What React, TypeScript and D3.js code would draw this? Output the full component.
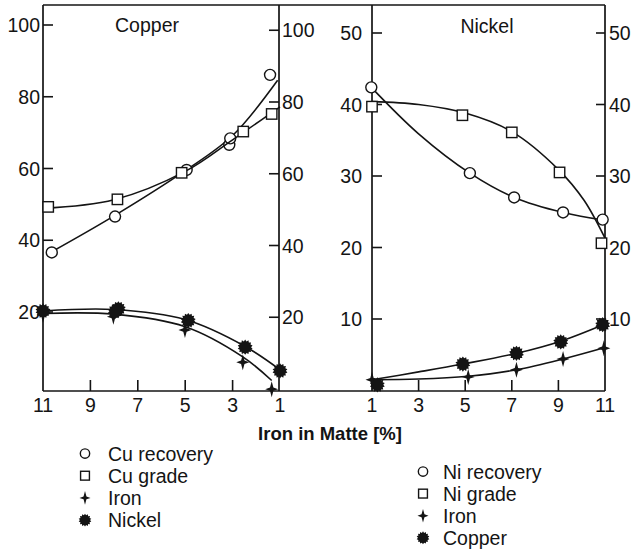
import React from "react";
import * as d3 from "d3";

// ---------- Data ----------
// Copper panel (x = Iron in matte %, reversed axis 11 -> 1)
const cuRecoveryPts: [number, number][] = [[10.63, 36.6], [7.96, 46.6], [4.94, 59.6], [3.14, 66.6], [3.1, 68.4], [1.42, 86.1]];
const cuRecoveryFit: [number, number][] = [[10.63, 36.8], [8, 46.8], [5, 59.4], [3, 69.2], [1.1, 84.6]];
const cuGradePts: [number, number][] = [[10.78, 49.3], [7.86, 51.4], [5.15, 58.8], [2.55, 70.3], [1.35, 75.2]];
const cuGradeFit: [number, number][] = [[11, 48.9], [8, 51.3], [5, 59.2], [3, 68.0], [1, 77.2]];
const cuIronPts: [number, number][] = [[11, 19.2], [8.03, 18.7], [5.01, 15.0], [2.57, 6.0], [1.35, -1.5]];
const cuIronFit: [number, number][] = [[11, 19.6], [8, 19.4], [5, 15.9], [2.57, 7.5], [1.35, 0.9]];
const cuNickelPts: [number, number][] = [[11, 20.3], [7.82, 20.9], [7.95, 20.2], [4.87, 17.6], [2.47, 10.2], [1.0, 3.6]];
const cuNickelFit: [number, number][] = [[11, 20.3], [8, 20.7], [5, 17.9], [2.47, 10.4], [1.0, 3.9]];

// Nickel panel (x = Iron in matte %, 1 -> 11)
const niRecoveryPts: [number, number][] = [[0.97, 42.4], [5.2, 30.4], [7.1, 27.0], [9.2, 24.9], [10.9, 23.9]];
const niRecoveryFit: [number, number][] = [[0.97, 42.4], [3, 35.9], [5.2, 30.4], [7.1, 27.0], [9.2, 24.9], [11, 23.8]];
const niGradePts: [number, number][] = [[1.0, 39.7], [4.88, 38.5], [7.0, 36.1], [9.05, 30.5], [10.85, 20.6]];
const niGradeFit: [number, number][] = [[1, 40.4], [3, 40.0], [5, 38.8], [7, 36.2], [9, 30.9], [10.1, 26.6], [11, 21.3]];
const niIronPts: [number, number][] = [[1.0, 1.5], [5.13, 1.9], [7.2, 2.9], [9.2, 4.4], [10.95, 5.9]];
const niIronFit: [number, number][] = [[1, 1.5], [3, 1.6], [5.13, 2.0], [7.2, 2.9], [9.2, 4.4], [11, 6.0]];
const niCopperPts: [number, number][] = [[1.23, 0.8], [4.9, 3.7], [7.2, 5.2], [9.1, 6.8], [10.9, 9.2]];
const niCopperFit: [number, number][] = [[1, 1.5], [3, 2.6], [4.9, 3.7], [7.2, 5.2], [9.1, 6.9], [11, 9.3]];

// Ticks and labels
const copperYTicks = [20, 40, 60, 80, 100];
const nickelYTicks = [10, 20, 30, 40, 50];
const copperXTicks = [11, 9, 7, 5, 3, 1];
const nickelXTicks = [1, 3, 5, 7, 9, 11];
const panelTitles = ["Copper", "Nickel"];
const xAxisTitle = "Iron in Matte [%]";
const copperLegend = ["Cu recovery", "Cu grade", "Iron", "Nickel"];
const nickelLegend = ["Ni recovery", "Ni grade", "Iron", "Copper"];
const legendShapes = ["circle", "square", "star", "burst"];

// ---------- Layout ----------
const FONT = "'Liberation Sans', Arial, Helvetica, sans-serif";
const INK = "#141414";
const TOP = 5;
const BOTTOM = 391;
const L0 = 43, L1 = 279, R0 = 372, R1 = 605;

const xL = d3.scaleLinear().domain([11, 1]).range([43, 280]);
const yL = d3.scaleLinear().domain([0, 100]).range([383.75, 25]);
const yLR = d3.scaleLinear().domain([0, 100]).range([389, 30.25]);
const xR = d3.scaleLinear().domain([1, 11]).range([372, 605]);
const yR = d3.scaleLinear().domain([0, 50]).range([390.5, 33]);

function starPath(nPts: number, rOut: number, rIn: number, rOutY?: number): string {
  const pts: [number, number][] = [];
  for (let i = 0; i < nPts * 2; i++) {
    const a = (Math.PI * i) / nPts - Math.PI / 2;
    const isOut = i % 2 === 0;
    const rx = isOut ? rOut : rIn;
    const ry = isOut ? (rOutY ?? rOut) : rIn;
    pts.push([Math.cos(a) * rx, Math.sin(a) * ry]);
  }
  return "M" + pts.map((p) => p[0].toFixed(2) + "," + p[1].toFixed(2)).join("L") + "Z";
}

function Marker({ shape, x, y, s = 1 }: { shape: string; x: number; y: number; s?: number }) {
  if (shape === "circle")
    return <circle cx={x} cy={y} r={5.5 * s} fill="white" stroke={INK} strokeWidth={1.4} />;
  if (shape === "square")
    return <rect x={x - 5.2 * s} y={y - 5.2 * s} width={10.4 * s} height={10.4 * s} fill="white" stroke={INK} strokeWidth={1.4} />;
  if (shape === "star")
    return <path transform={`translate(${x},${y})`} d={starPath(4, 6.5 * s, 2.4 * s, 8 * s)} fill={INK} />;
  return <path transform={`translate(${x},${y})`} d={starPath(14, 7.6 * s, 5.9 * s)} fill={INK} />;
}

function Series({ pts, fit, shape, x, y }: { pts: [number, number][]; fit: [number, number][]; shape: string; x: d3.ScaleLinear<number, number>; y: d3.ScaleLinear<number, number> }) {
  const line = d3.line<[number, number]>().x((d) => x(d[0])).y((d) => y(d[1])).curve(d3.curveCatmullRom.alpha(0.5));
  return (
    <g>
      <path d={line(fit) || ""} fill="none" stroke={INK} strokeWidth={1.6} />
      {pts.map((p, i) => (
        <Marker key={i} shape={shape} x={x(p[0])} y={y(p[1])} />
      ))}
    </g>
  );
}

export default function App() {
  const fs = 19.5;
  return (
    <div style={{ position: "absolute", left: 0, top: 0 }}>
      <svg width={633} height={551} style={{ display: "block", background: "white" }} fontFamily={FONT}>
        {/* frame */}
        <g stroke={INK} strokeWidth={1.7} fill="none">
          <line x1={L0} x2={R1} y1={TOP} y2={TOP} />
          <line x1={L0} x2={R1} y1={BOTTOM} y2={BOTTOM} />
          <line x1={L0} x2={L0} y1={TOP} y2={BOTTOM} />
          <line x1={L1} x2={L1} y1={TOP} y2={BOTTOM} />
          <line x1={R0} x2={R0} y1={TOP} y2={BOTTOM} />
          <line x1={R1} x2={R1} y1={TOP} y2={BOTTOM} />
        </g>

        {/* Copper panel y axes */}
        {copperYTicks.map((t) => (
          <g key={"cl" + t}>
            <line x1={L0} x2={L0 + 10} y1={yL(t)} y2={yL(t)} stroke={INK} strokeWidth={1.6} />
            <text x={40} y={yL(t)} dy="0.36em" textAnchor="end" fontSize={fs} fill={INK}>{t}</text>
          </g>
        ))}
        {copperYTicks.map((t) => (
          <g key={"cr" + t}>
            <line x1={L1 - 10} x2={L1} y1={yLR(t)} y2={yLR(t)} stroke={INK} strokeWidth={1.6} />
            <text x={282} y={yLR(t)} dy="0.36em" textAnchor="start" fontSize={fs} fill={INK}>{t}</text>
          </g>
        ))}
        {/* Nickel panel y axes */}
        {nickelYTicks.map((t) => (
          <g key={"nl" + t}>
            <line x1={R0} x2={R0 + 10} y1={yR(t)} y2={yR(t)} stroke={INK} strokeWidth={1.6} />
            <text x={362} y={yR(t)} dy="0.36em" textAnchor="end" fontSize={fs} fill={INK}>{t}</text>
            <line x1={R1 - 9} x2={R1} y1={yR(t)} y2={yR(t)} stroke={INK} strokeWidth={1.6} />
            <text x={609} y={yR(t)} dy="0.36em" textAnchor="start" fontSize={fs} fill={INK}>{t}</text>
          </g>
        ))}

        {/* x axes */}
        {copperXTicks.map((t) => (
          <g key={"cx" + t}>
            {t !== 11 && t !== 1 && <line x1={xL(t)} x2={xL(t)} y1={BOTTOM} y2={BOTTOM - 11} stroke={INK} strokeWidth={1.6} />}
            <text x={xL(t)} y={412} textAnchor="middle" fontSize={fs} fill={INK}>{t}</text>
          </g>
        ))}
        {nickelXTicks.map((t) => (
          <g key={"nx" + t}>
            {t !== 11 && t !== 1 && <line x1={xR(t)} x2={xR(t)} y1={BOTTOM} y2={BOTTOM - 11} stroke={INK} strokeWidth={1.6} />}
            <text x={xR(t)} y={412} textAnchor="middle" fontSize={fs} fill={INK}>{t}</text>
          </g>
        ))}
        <text x={330} y={440} textAnchor="middle" fontSize={18.5} fontWeight="bold" fill={INK}>{xAxisTitle}</text>

        {/* titles */}
        <text x={147} y={32} textAnchor="middle" fontSize={fs} fill={INK}>{panelTitles[0]}</text>
        <text x={487} y={33} textAnchor="middle" fontSize={fs} fill={INK}>{panelTitles[1]}</text>

        {/* Copper series */}
        <Series pts={cuRecoveryPts} fit={cuRecoveryFit} shape="circle" x={xL} y={yL} />
        <Series pts={cuGradePts} fit={cuGradeFit} shape="square" x={xL} y={yL} />
        <Series pts={cuIronPts} fit={cuIronFit} shape="star" x={xL} y={yL} />
        <Series pts={cuNickelPts} fit={cuNickelFit} shape="burst" x={xL} y={yL} />

        {/* Nickel series */}
        <Series pts={niRecoveryPts} fit={niRecoveryFit} shape="circle" x={xR} y={yR} />
        <Series pts={niGradePts} fit={niGradeFit} shape="square" x={xR} y={yR} />
        <Series pts={niIronPts} fit={niIronFit} shape="star" x={xR} y={yR} />
        <Series pts={niCopperPts} fit={niCopperFit} shape="burst" x={xR} y={yR} />

        {/* legends */}
        {copperLegend.map((lab, i) => (
          <g key={"lg1" + i}>
            <Marker shape={legendShapes[i]} x={85} y={453.5 + i * 22.2} s={0.85} />
            <text x={108} y={460.5 + i * 22.2} fontSize={fs} fill={INK}>{lab}</text>
          </g>
        ))}
        {nickelLegend.map((lab, i) => (
          <g key={"lg2" + i}>
            <Marker shape={legendShapes[i]} x={423} y={471.5 + i * 22.1} s={0.85} />
            <text x={443} y={478.5 + i * 22.1} fontSize={fs} fill={INK}>{lab}</text>
          </g>
        ))}
      </svg>
    </div>
  );
}
